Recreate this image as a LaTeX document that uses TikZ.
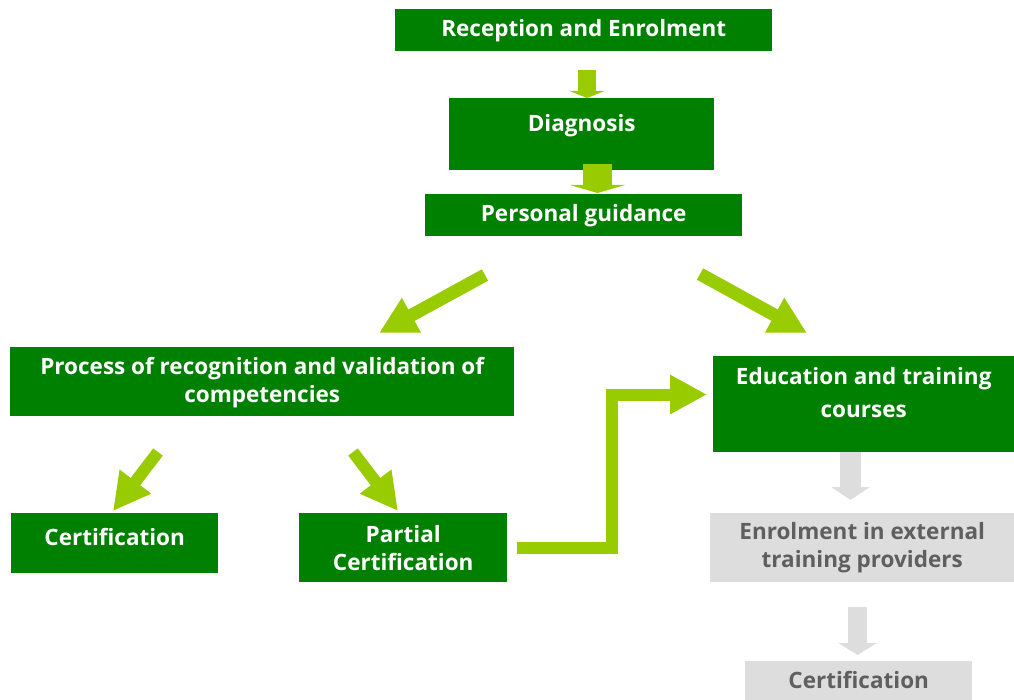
\documentclass[tikz,border=0pt]{standalone}
\usepackage{fontspec}
\setmainfont{Open Sans}
\usetikzlibrary{arrows.meta}

\definecolor{boxgreen}{RGB}{0,128,0}
\definecolor{arrowgreen}{RGB}{153,204,0}
\definecolor{boxgrey}{RGB}{221,221,221}
\definecolor{textgrey}{RGB}{95,95,95}

\begin{document}
\begin{tikzpicture}[x={1pt},y={-1pt},
  box/.style={fill=boxgreen, text=white, anchor=north west, inner sep=0pt,
    align=center, font=\fontsize{22.5}{28}\selectfont\bfseries},
  greybox/.style={box, fill=boxgrey, text=textgrey},
  slant/.style={draw=arrowgreen, line width=13pt,
    -{Triangle[width=37pt,length=37pt]}}]
\useasboundingbox (0,0) rectangle (1014,700);

\node [box, minimum width=377pt, minimum height=42pt] (recep) at (395,9)
  {Reception and Enrolment};
\node [box, minimum width=265pt, minimum height=72pt,
  text height=15pt, text depth=21pt] (diag) at (449,98) {Diagnosis};
\node [box, minimum width=317pt, minimum height=42pt] (guide) at (425,194)
  {Personal guidance};
\node [box, minimum width=504pt, minimum height=69pt,
  text height=44pt, text depth=3pt] (rvcc) at (10,347)
  {Process of recognition and validation of\\competencies};
\node [box, minimum width=301pt, minimum height=96pt, text height=48pt,
  text depth=22pt, font=\fontsize{22.5}{33}\selectfont\bfseries] (courses) at (713,356)
  {Education and training\\courses};
\node [box, minimum width=207pt, minimum height=60pt,
  text height=15pt, text depth=11pt] (cert) at (11,513) {Certification};
\node [box, minimum width=208pt, minimum height=69pt] (partial) at (299,513)
  {Partial\\Certification};
\node [greybox, minimum width=304pt, minimum height=69pt] (extern) at (710,513)
  {Enrolment in external\\training providers};
\node [greybox, minimum width=227pt, minimum height=39pt,
  text height=15pt, text depth=0pt] (certB) at (745,661) {Certification};

\coordinate (A) at (587,70);
\coordinate (Aprime) at (587,98);
\draw [arrowgreen, line width=18pt, -{Triangle[width=35pt,length=7pt]}] (A) -- (Aprime);

\coordinate (B) at (597.5,164);
\coordinate (Bprime) at (597.5,193);
\draw [arrowgreen, line width=29pt, -{Triangle[width=55pt,length=8pt]}] (B) -- (Bprime);

\coordinate (C) at (485,275);
\coordinate (Cprime) at (379,333);
\draw [slant] (C) -- (Cprime);

\coordinate (D) at (700,274);
\coordinate (Dprime) at (807,333);
\draw [slant] (D) -- (Dprime);

\coordinate (E) at (158,452);
\coordinate (Eprime) at (113,511);
\draw [slant, line width=12pt] (E) -- (Eprime);

\coordinate (F) at (353,452);
\coordinate (Fprime) at (398,511);
\draw [slant, line width=12pt] (F) -- (Fprime);

\coordinate (G) at (517,547.5);
\coordinate (Gprime) at (707,394.5);
\draw [slant, line width=12pt] (G) -- (612,547.5) -- (612,394.5) -- (Gprime);

\coordinate (H) at (850.5,452);
\coordinate (Hprime) at (850.5,500);
\draw [boxgrey, line width=21pt, -{Triangle[width=38pt,length=13pt]}] (H) -- (Hprime);

\coordinate (K) at (857.5,607);
\coordinate (Kprime) at (857.5,655);
\draw [boxgrey, line width=19pt, -{Triangle[width=38pt,length=12pt]}] (K) -- (Kprime);

\end{tikzpicture}
\end{document}
